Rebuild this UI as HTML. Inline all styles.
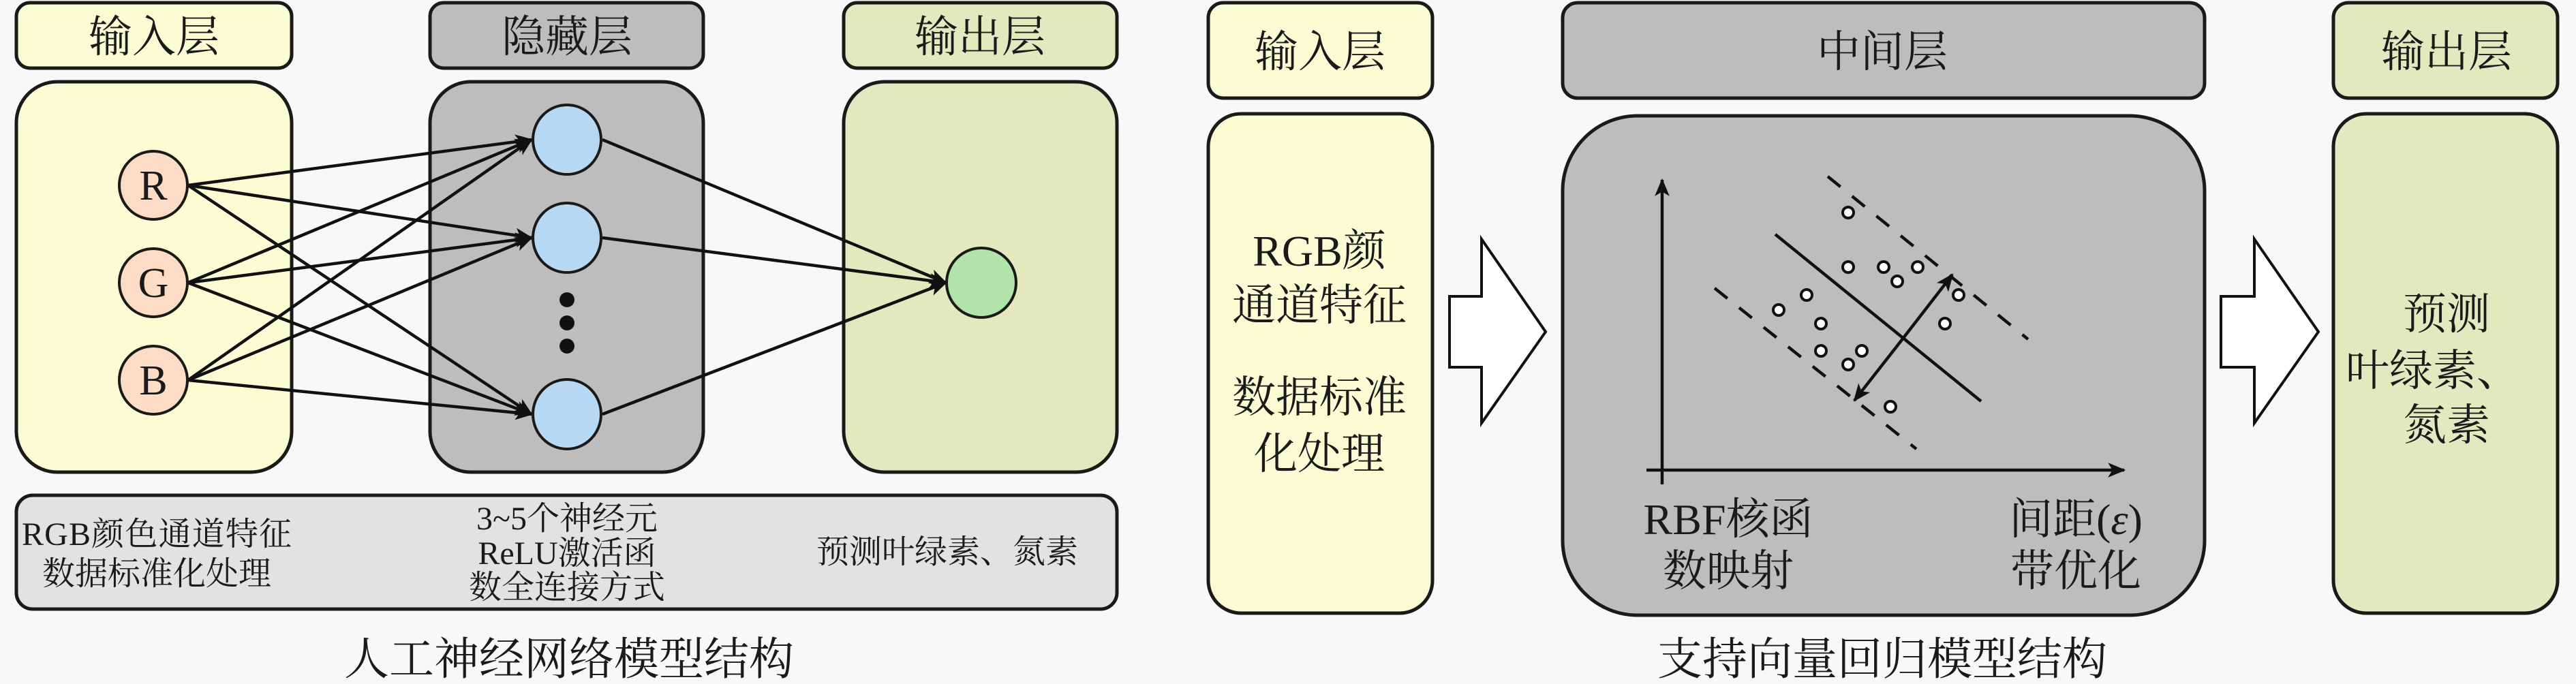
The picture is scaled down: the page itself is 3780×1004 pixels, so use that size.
<!DOCTYPE html>
<html><head><meta charset="utf-8"><style>
html,body{margin:0;padding:0;background:#f8f8f8;}
svg{display:block;}
text{font-family:"Liberation Serif","Noto Serif CJK SC",serif;fill:#1a1a1a;}
</style></head><body>
<svg width="3780" height="1004" viewBox="0 0 3780 1004" xmlns="http://www.w3.org/2000/svg">
<defs>
<marker id="ah" markerWidth="10" markerHeight="10" refX="9" refY="5" orient="auto" markerUnits="userSpaceOnUse" viewBox="0 0 10 10">
</marker>
<marker id="a" viewBox="0 0 12 10" refX="11" refY="5" markerWidth="26" markerHeight="22" orient="auto" markerUnits="userSpaceOnUse"><path d="M0,0 L12,5 L0,10 L3,5 z" fill="#111"/></marker>
</defs>
<rect width="3780" height="1004" fill="#f8f8f8"/>
<!-- LEFT -->
<g stroke="#1a1a1a" stroke-width="5">
<rect x="24" y="4" width="404" height="96" rx="20" fill="#fafdd4"/>
<rect x="631" y="4" width="401" height="96" rx="20" fill="#bdbdbd"/>
<rect x="1238" y="4" width="401" height="96" rx="20" fill="#e3e8bf"/>
<rect x="24" y="120" width="404" height="573" rx="60" fill="#fafdd4"/>
<rect x="631" y="120" width="401" height="573" rx="60" fill="#bdbdbd"/>
<rect x="1238" y="120" width="401" height="573" rx="60" fill="#e3e8bf"/>
<rect x="24" y="727" width="1615" height="167" rx="24" fill="#e2e2e2"/>
</g>
<g font-size="64" text-anchor="middle">
<text x="226" y="76">输入层</text>
<text x="832" y="76">隐藏层</text>
<text x="1438" y="76">输出层</text>
</g>
<g stroke="#111" stroke-width="4.5" marker-end="url(#a)">
<line x1="276" y1="272" x2="780" y2="205"/>
<line x1="276" y1="272" x2="780" y2="349"/>
<line x1="276" y1="272" x2="780" y2="608"/>
<line x1="276" y1="415" x2="780" y2="205"/>
<line x1="276" y1="415" x2="780" y2="349"/>
<line x1="276" y1="415" x2="780" y2="608"/>
<line x1="276" y1="558" x2="780" y2="205"/>
<line x1="276" y1="558" x2="780" y2="349"/>
<line x1="276" y1="558" x2="780" y2="608"/>
<line x1="884" y1="205" x2="1388" y2="415"/>
<line x1="884" y1="349" x2="1388" y2="415"/>
<line x1="884" y1="608" x2="1388" y2="415"/>
</g>
<g stroke="#1a1a1a" stroke-width="4">
<circle cx="225" cy="272" r="50" fill="#fcdcc4"/>
<circle cx="225" cy="415" r="50" fill="#fcdcc4"/>
<circle cx="225" cy="558" r="50" fill="#fcdcc4"/>
<ellipse cx="832" cy="205" rx="50" ry="51" fill="#b7d8f2"/>
<ellipse cx="832" cy="349" rx="50" ry="51" fill="#b7d8f2"/>
<ellipse cx="832" cy="608" rx="50" ry="51" fill="#b7d8f2"/>
<circle cx="1440" cy="415" r="51" fill="#b2e3a8"/>
</g>
<g fill="#111"><circle cx="832" cy="440" r="11"/><circle cx="832" cy="474" r="11"/><circle cx="832" cy="508" r="11"/></g>
<g font-size="62" text-anchor="middle">
<text x="225" y="293">R</text><text x="225" y="436">G</text><text x="225" y="579">B</text>
</g>
<g font-size="48" text-anchor="middle">
<text x="230" y="800" textLength="396">RGB颜色通道特征</text>
<text x="230" y="858">数据标准化处理</text>
<text x="832" y="777">3~5个神经元</text>
<text x="832" y="828">ReLU激活函</text>
<text x="832" y="878">数全连接方式</text>
<text x="1390" y="826">预测叶绿素、氮素</text>
</g>
<text x="835" y="990" font-size="66" text-anchor="middle">人工神经网络模型结构</text>

<!-- RIGHT -->
<g stroke="#1a1a1a" stroke-width="5">
<rect x="1773" y="4" width="329" height="140" rx="22" fill="#fafdd4"/>
<rect x="2293" y="4" width="942" height="140" rx="22" fill="#bdbdbd"/>
<rect x="3424" y="4" width="329" height="140" rx="22" fill="#e3e8bf"/>
<rect x="1773" y="167" width="329" height="733" rx="48" fill="#fafdd4"/>
<rect x="2293" y="170" width="942" height="733" rx="110" fill="#bdbdbd"/>
<rect x="3424" y="167" width="329" height="733" rx="48" fill="#e3e8bf"/>
</g>
<g fill="#fff" stroke="#111" stroke-width="4">
<path d="M2127,435 L2174,435 L2174,351 L2268,487 L2174,621 L2174,539 L2127,539 Z"/>
<path d="M3259,435 L3308,435 L3308,351 L3402,487 L3308,621 L3308,539 L3259,539 Z"/>
</g>
<g font-size="64" text-anchor="middle">
<text x="1937" y="98">输入层</text>
<text x="2762" y="98">中间层</text>
<text x="3590" y="98">输出层</text>
<text x="1936" y="390">RGB颜</text>
<text x="1936" y="470">通道特征</text>
<text x="1936" y="605">数据标准</text>
<text x="1936" y="688">化处理</text>
<text x="3590" y="483">预测</text>
<text x="3570" y="566">叶绿素、</text>
<text x="3590" y="646">氮素</text>
<text x="2536" y="784">RBF核函</text>
<text x="2536" y="860">数映射</text>
<text x="3046" y="784">间距(<tspan font-style="italic">ε</tspan>)</text>
<text x="3046" y="860">带优化</text>
</g>
<text x="2762" y="990" font-size="66" text-anchor="middle">支持向量回归模型结构</text>
<!-- plot -->
<g stroke="#111" stroke-width="4.5" fill="none">
<line x1="2439" y1="711" x2="2439" y2="264" marker-end="url(#a)"/>
<line x1="2416" y1="690" x2="3117" y2="690" marker-end="url(#a)"/>
<line x1="2605" y1="344" x2="2907" y2="589"/>
<line x1="2682" y1="259" x2="2976" y2="498" stroke-dasharray="24 22"/>
<line x1="2516" y1="423" x2="2812" y2="659" stroke-dasharray="24 22"/>
<line x1="2793" y1="496" x2="2865" y2="403" marker-end="url(#a)"/>
<line x1="2793" y1="496" x2="2721" y2="588" marker-end="url(#a)"/>
</g>
<g fill="#fff" stroke="#111" stroke-width="4">
<circle cx="2712" cy="312" r="8"/>
<circle cx="2712" cy="392" r="8"/>
<circle cx="2764" cy="392" r="8"/>
<circle cx="2814" cy="392" r="8"/>
<circle cx="2784" cy="413" r="8"/>
<circle cx="2874" cy="433" r="8"/>
<circle cx="2651" cy="433" r="8"/>
<circle cx="2610" cy="455" r="8"/>
<circle cx="2672" cy="475" r="8"/>
<circle cx="2854" cy="475" r="8"/>
<circle cx="2672" cy="515" r="8"/>
<circle cx="2732" cy="515" r="8"/>
<circle cx="2712" cy="535" r="8"/>
<circle cx="2774" cy="597" r="8"/>
</g>
</svg>
</body></html>
